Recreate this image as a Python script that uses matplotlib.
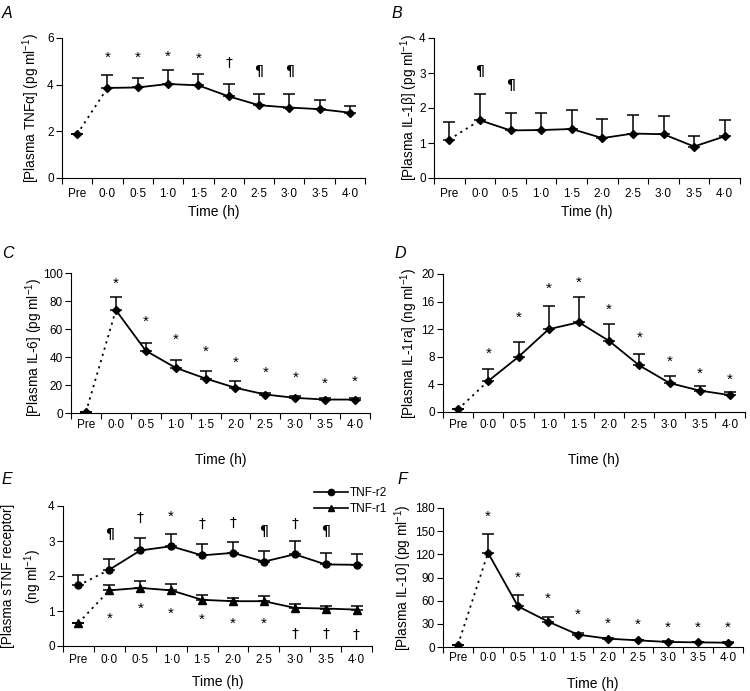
import numpy as np
import matplotlib
matplotlib.use('Agg')
import matplotlib.pyplot as plt

plt.rcParams['font.family'] = ['Liberation Sans', 'DejaVu Sans']
plt.rcParams['font.size'] = 8.5
plt.rcParams['mathtext.fontset'] = 'custom'
plt.rcParams['mathtext.rm'] = 'Liberation Sans'
plt.rcParams['mathtext.it'] = 'Liberation Sans:italic'

# 时间点
labels = ['Pre', '0·0', '0·5', '1·0', '1·5', '2·0', '2·5', '3·0', '3·5', '4·0']

# A: TNFα (pg/ml)
tnfa = [1.88, 3.86, 3.88, 4.03, 3.97, 3.5, 3.12, 3.02, 2.95, 2.8]
tnfa_err = [0.0, 0.57, 0.4, 0.58, 0.5, 0.55, 0.47, 0.57, 0.4, 0.3]
tnfa_sig = ['', '*', '*', '*', '*', '†', '¶', '¶', '', '']
tnfa_sig_y = [0, 5.15, 5.15, 5.2, 5.1, 4.95, 4.6, 4.6, 0, 0]

# B: IL-1β (pg/ml)
il1b = [1.1, 1.65, 1.36, 1.37, 1.4, 1.14, 1.27, 1.25, 0.9, 1.19]
il1b_err = [0.5, 0.75, 0.49, 0.48, 0.54, 0.54, 0.52, 0.52, 0.31, 0.47]
il1b_sig = ['', '¶', '¶', '', '', '', '', '', '', '']
il1b_sig_y = [0, 3.05, 2.65, 0, 0, 0, 0, 0, 0, 0]

# C: IL-6 (pg/ml)
il6 = [0.7, 73.5, 44.5, 32.3, 24.6, 18.0, 13.2, 10.8, 9.6, 9.6]
il6_err = [0.0, 9.5, 5.5, 5.5, 5.4, 5.0, 1.4, 1.4, 1.2, 1.2]
il6_sig = ['', '*', '*', '*', '*', '*', '*', '*', '*', '*']
il6_sig_y = [0, 92, 65, 52, 43.5, 36, 29, 25, 21, 22]

# D: IL-1ra (ng/ml)
il1ra = [0.4, 4.5, 8.0, 12.0, 13.0, 10.3, 6.75, 4.2, 3.1, 2.45]
il1ra_err = [0.0, 1.75, 2.1, 3.4, 3.6, 2.45, 1.65, 1.0, 0.65, 0.45]
il1ra_sig = ['', '*', '*', '*', '*', '*', '*', '*', '*', '*']
il1ra_sig_y = [0, 8.5, 13.6, 17.8, 18.7, 14.8, 10.8, 7.3, 5.6, 4.7]

# E: sTNF receptor (ng/ml)
tnfr2 = [1.73, 2.18, 2.73, 2.85, 2.59, 2.66, 2.41, 2.62, 2.33, 2.32]
tnfr2_err = [0.29, 0.3, 0.36, 0.34, 0.33, 0.31, 0.31, 0.37, 0.33, 0.32]
tnfr1 = [0.66, 1.59, 1.66, 1.59, 1.32, 1.28, 1.28, 1.09, 1.07, 1.04]
tnfr1_err = [0.0, 0.14, 0.19, 0.19, 0.13, 0.1, 0.15, 0.11, 0.08, 0.09]
tnfr2_sig = ['', '¶', '†', '*', '†', '†', '¶', '†', '¶', '']
tnfr2_sig_y = [0, 3.2, 3.65, 3.68, 3.5, 3.52, 3.28, 3.5, 3.28, 0]
tnfr1_sig = ['', '*', '*', '*', '*', '*', '*', '†', '†', '†']
tnfr1_sig_y = [0, 0.78, 1.06, 0.93, 0.76, 0.63, 0.63, 0.35, 0.35, 0.33]

# F: IL-10 (pg/ml)
il10 = [3.0, 122.0, 52.7, 33.0, 16.0, 10.8, 8.6, 6.5, 6.0, 5.6]
il10_err = [0.0, 24.0, 14.0, 6.0, 2.5, 1.5, 1.0, 1.0, 0.8, 0.8]
il10_sig = ['', '*', '*', '*', '*', '*', '*', '*', '*', '*']
il10_sig_y = [0, 168, 90, 63, 42, 30, 29, 25, 25, 25]

x = np.arange(len(labels))


def draw_series(ax, vals, errs, marker, ms=5):
    vals = np.array(vals)
    errs = np.array(errs)
    # 上侧误差棒
    ax.errorbar(x, vals, yerr=[np.zeros_like(errs), errs], fmt='none',
                ecolor='black', elinewidth=1.1, capsize=4, capthick=1.1, zorder=2)
    ax.plot(x[:2], vals[:2], color='black', linestyle=(0, (1.2, 2.4)), lw=1.3, zorder=3)
    ax.plot(x[1:], vals[1:], color='black', lw=1.3, zorder=3)
    ax.plot(x, vals, linestyle='none', marker=marker, color='black', ms=ms, zorder=4)


def draw_sig(ax, sig, sig_y):
    for i, (s, yy) in enumerate(zip(sig, sig_y)):
        if s == '*':
            ax.text(x[i], yy, s, ha='center', va='center', fontsize=11)
        elif s == '¶':
            ax.text(x[i], yy, s, ha='center', va='center', fontsize=10,
                    family='DejaVu Sans', fontweight='bold')
        elif s:
            ax.text(x[i], yy, s, ha='center', va='center', fontsize=10,
                    family='DejaVu Sans')


def setup_axes(ax, ymax, ystep, ylabel, ylab_x, xlab_y, tick_pad=5, ylab_y=0.5):
    ax.set_xlim(-0.5, 9.5)
    ax.set_ylim(0, ymax)
    yt = np.arange(0, ymax + ystep / 2, ystep)
    ax.set_yticks(yt)
    ax.set_yticklabels([f'{v:g}' for v in yt])
    ax.set_xticks(np.arange(-0.5, 10, 1))
    ax.set_xticklabels([])
    ax.set_xticks(x, minor=True)
    ax.set_xticklabels(labels, minor=True)
    ax.tick_params(axis='x', which='minor', length=0, pad=tick_pad, labelsize=8.5)
    ax.tick_params(axis='x', which='major', length=4, width=0.8)
    ax.tick_params(axis='y', length=4, width=0.8, labelsize=8.5, pad=2)
    for side in ['top', 'right']:
        ax.spines[side].set_visible(False)
    for side in ['left', 'bottom']:
        ax.spines[side].set_linewidth(0.8)
    ax.set_ylabel(ylabel, fontsize=9.8, linespacing=1.5)
    ax.yaxis.set_label_coords(ylab_x, ylab_y)
    ax.set_xlabel('Time (h)', fontsize=10)
    ax.xaxis.set_label_coords(0.5, xlab_y)


fig = plt.figure(figsize=(7.5, 6.91), dpi=100)

W, H = 750.0, 691.0


def add_ax(left, right, top, bottom):
    return fig.add_axes([left / W, 1 - bottom / H, (right - left) / W, (bottom - top) / H])


def letter(px, py, s):
    fig.text(px / W, 1 - py / H, s, fontsize=11.5, fontstyle='italic', ha='left', va='center')


# A
axA = add_ax(62, 365, 38, 178)
draw_series(axA, tnfa, tnfa_err, 'D', ms=4.5)
draw_sig(axA, tnfa_sig, tnfa_sig_y)
setup_axes(axA, 6, 2, '[Plasma TNFα] (pg ml$^{-1}$)', -0.066, -0.195, tick_pad=7)
letter(2, 13, 'A')

# B
axB = add_ax(434, 740, 38, 178)
draw_series(axB, il1b, il1b_err, 'D', ms=4.5)
draw_sig(axB, il1b_sig, il1b_sig_y)
setup_axes(axB, 4, 1, '[Plasma IL-1β] (pg ml$^{-1}$)', -0.045, -0.195, tick_pad=7)
letter(391, 13, 'B')

# C
axC = add_ax(71, 370, 273, 413)
draw_series(axC, il6, il6_err, 'D', ms=4.5)
draw_sig(axC, il6_sig, il6_sig_y)
setup_axes(axC, 100, 20, '[Plasma IL-6] (pg ml$^{-1}$)', -0.088, -0.286, tick_pad=4,
           ylab_y=0.47)
letter(2, 253, 'C')

# D
axD = add_ax(443, 745, 274, 412)
draw_series(axD, il1ra, il1ra_err, 'D', ms=4.5)
draw_sig(axD, il1ra_sig, il1ra_sig_y)
setup_axes(axD, 20, 4, '[Plasma IL-1ra] (ng ml$^{-1}$)', -0.075, -0.297, tick_pad=5)
letter(395, 253, 'D')

# E
axE = add_ax(63, 372, 506, 646)
draw_series(axE, tnfr2, tnfr2_err, 'o', ms=5)
draw_series(axE, tnfr1, tnfr1_err, '^', ms=5.5)
draw_sig(axE, tnfr2_sig, tnfr2_sig_y)
draw_sig(axE, tnfr1_sig, tnfr1_sig_y)
setup_axes(axE, 4, 1, '[Plasma sTNF receptor]\n(ng ml$^{-1}$)', -0.06, -0.207, tick_pad=6)
h1, = axE.plot([], [], color='black', marker='o', ms=4.5, lw=1.2, label='TNF-r2')
h2, = axE.plot([], [], color='black', marker='^', ms=5, lw=1.2, label='TNF-r1')
axE.legend(handles=[h1, h2], loc='upper left', bbox_to_anchor=(314 / W, 1 - 487 / H),
           bbox_transform=fig.transFigure, frameon=False, fontsize=8.5,
           handlelength=2.9, handletextpad=0.15, labelspacing=0.35, borderaxespad=0,
           borderpad=0)
letter(2, 479, 'E')

# F
axF = add_ax(443, 743, 508, 647)
draw_series(axF, il10, il10_err, 'D', ms=4.5)
draw_sig(axF, il10_sig, il10_sig_y)
setup_axes(axF, 180, 30, '[Plasma IL-10] (pg ml$^{-1}$)', -0.097, -0.215, tick_pad=3.5)
letter(397, 480, 'F')

fig.savefig('out.png', dpi=100)
